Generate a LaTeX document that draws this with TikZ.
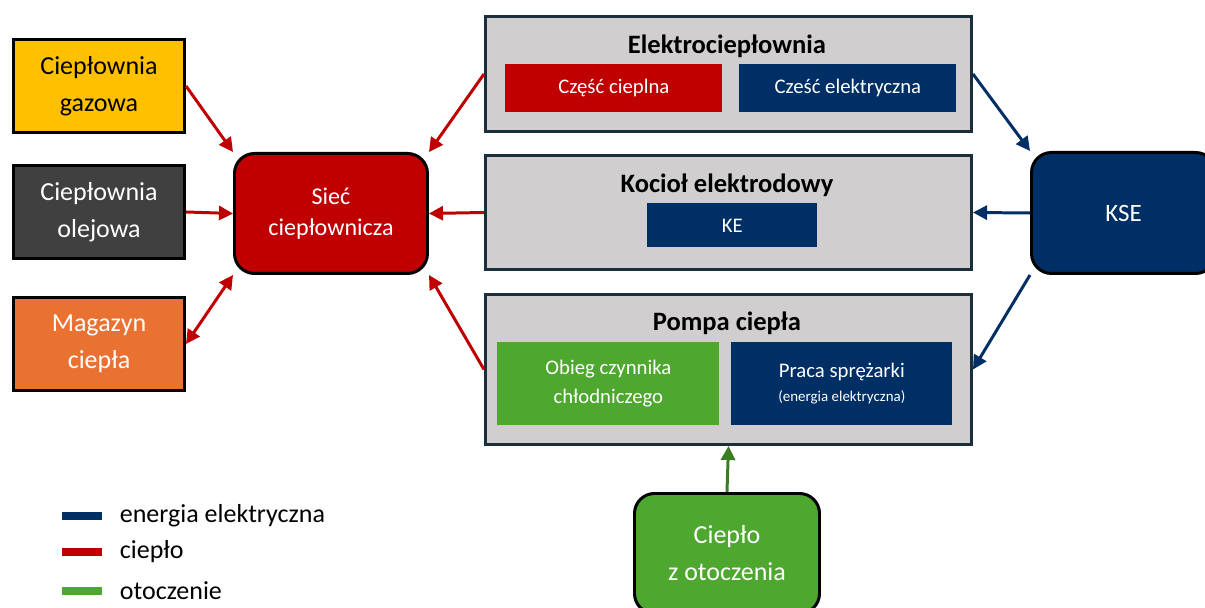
\documentclass[tikz,border=0pt]{standalone}
\usepackage{fontspec}
\setmainfont{Carlito}
\usetikzlibrary{arrows.meta}
\usepackage{xcolor}
\definecolor{heatred}{HTML}{C00000}
\definecolor{elnavy}{HTML}{002F65}
\definecolor{envgreen}{HTML}{4EA72E}
\definecolor{envarrow}{HTML}{3B7D23}
\definecolor{gasyellow}{HTML}{FFC000}
\definecolor{oilgray}{HTML}{404040}
\definecolor{storeorange}{HTML}{E97132}
\definecolor{plantgray}{HTML}{D0CECE}
\definecolor{plantframe}{HTML}{1B2E3C}

\tikzset{
  src/.style={draw=black,line width=1.7pt,anchor=north west,align=center,
    minimum width=3.42cm,minimum height=1.86cm,
    font=\fontsize{14.8}{21}\selectfont},
  plant/.style={draw=plantframe,fill=plantgray,line width=1.7pt,
    anchor=north west,minimum width=9.72cm},
  plantname/.style={font=\fontsize{15.1}{17}\selectfont\bfseries},
  part/.style={anchor=north west,text=white,align=center,
    font=\fontsize{11.8}{16.5}\selectfont},
  hub/.style={draw=black,line width=1.7pt,rounded corners=0.4cm,
    anchor=north west,text=white,align=center},
  heat/.style={heatred,line width=1.7pt,-{Triangle[length=8pt,width=8pt]}},
  elec/.style={elnavy,line width=1.7pt,-{Triangle[length=8pt,width=8pt]}},
  env/.style={envarrow,line width=1.7pt,-{Triangle[length=8pt,width=8pt]}},
  key/.style={line width=0.16cm}
}

\begin{document}
\begin{tikzpicture}
\useasboundingbox (0,0) rectangle (24.10,-12.16);
% heat sources on the left
\path
  (0.24,-0.76) node [src,fill=gasyellow] (gaz) {Ciepłownia\\gazowa}
  (0.24,-3.28) node [src,fill=oilgray,text=white] (olej) {Ciepłownia\\olejowa}
  (0.24,-5.92) node [src,fill=storeorange,text=white] (mag) {Magazyn\\ciepła}
  (4.66,-3.04) node [hub,fill=heatred,minimum width=3.86cm,minimum height=2.40cm,
    font=\fontsize{13.7}{18}\selectfont] (siec) {Sieć\\ciepłownicza};
% plants in the middle
\path
  (9.68,-0.30) node [plant,minimum height=2.30cm] (ec) {}
  (14.54,-0.92) node [plantname] (ectitle) {Elektrociepłownia}
  (10.10,-1.28) node [part,fill=heatred,minimum width=4.34cm,minimum height=0.96cm]
    (cieplna) {Część cieplna}
  (14.78,-1.28) node [part,fill=elnavy,minimum width=4.34cm,minimum height=0.96cm]
    (elektr) {Cześć elektryczna}
  (9.68,-3.08) node [plant,minimum height=2.28cm] (kociol) {}
  (14.54,-3.70) node [plantname] (kocioltitle) {Kocioł elektrodowy}
  (12.94,-4.06) node [part,fill=elnavy,minimum width=3.40cm,minimum height=0.88cm]
    (ke) {KE}
  (9.68,-5.86) node [plant,minimum height=3.00cm] (pompa) {}
  (14.54,-6.46) node [plantname] (pompatitle) {Pompa ciepła}
  (9.94,-6.84) node [part,fill=envgreen,minimum width=4.44cm,minimum height=1.66cm]
    (obieg) {Obieg czynnika\\chłodniczego}
  (14.62,-6.84) node [part,fill=elnavy,minimum width=4.42cm,minimum height=1.66cm]
    (praca) {Praca sprężarki\\[-3pt]{\fontsize{8.5}{10}\selectfont(energia elektryczna)}};
% grid and surroundings
\path
  (20.60,-3.02) node [hub,fill=elnavy,minimum width=3.68cm,minimum height=2.42cm,
    font=\fontsize{14.2}{18}\selectfont] (kse) {KSE}
  (12.66,-9.84) node [hub,fill=envgreen,minimum width=3.70cm,minimum height=2.40cm,
    font=\fontsize{14.8}{21}\selectfont] (otocz) {Ciepło\\z otoczenia};
\draw [heat] (gaz.east) -- (siec.north west);
\draw [heat] (olej.east) -- (siec.west);
\draw [heat,{Triangle[length=8pt,width=8pt]}-{Triangle[length=8pt,width=8pt]}]
  (mag.east) -- (siec.south west);
\draw [heat] (ec.west) -- (siec.north east);
\draw [heat] (kociol.west) -- (siec.east);
\draw [heat] (pompa.west) -- (siec.south east);
\draw [elec] (ec.east) -- (kse.north west);
\draw [elec] (kse.west) -- (kociol.east);
\draw [elec] (kse.south west) -- (pompa.east);
\draw [env] (otocz.north) -- (pompa.south);
% legend
\path
  (1.24,-10.32) coordinate (k1) (1.24,-11.04) coordinate (k2)
  (1.24,-11.82) coordinate (k3);
\draw [key,elnavy] (k1) -- +(0.80,0) node [anchor=west,xshift=0.16cm,text=black,
  font=\fontsize{14.8}{18}\selectfont] (l1) {energia elektryczna};
\draw [key,heatred] (k2) -- +(0.80,0) node [anchor=west,xshift=0.16cm,text=black,
  font=\fontsize{14.8}{18}\selectfont] (l2) {ciepło};
\draw [key,envgreen] (k3) -- +(0.80,0) node [anchor=west,xshift=0.16cm,text=black,
  font=\fontsize{14.8}{18}\selectfont] (l3) {otoczenie};
\end{tikzpicture}
\end{document}
